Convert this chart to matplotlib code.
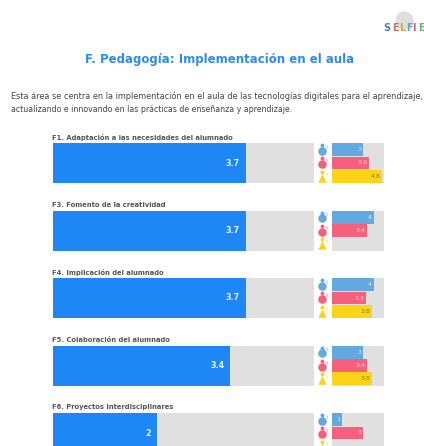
import matplotlib
matplotlib.use("Agg")
import matplotlib.pyplot as plt

W, H = 424, 446

row_names = [
    "F1. Adaptación a las necesidades del alumnado",
    "F3. Fomento de la creatividad",
    "F4. Implicación del alumnado",
    "F5. Colaboración del alumnado",
    "F6. Proyectos interdisciplinares",
]
overall = [3.7, 3.7, 3.7, 3.4, 2]
overall_labels = ["3.7", "3.7", "3.7", "3.4", "2"]

directors = [3, 4, 4, 3, 1]
teachers = [3.6, 3.4, 3.3, 3.4, 3]
students = [4.8, 0, 3.8, 3.8, 0]
director_labels = ["3", "4", "4", "3", "1"]
teacher_labels = ["3.6", "3.4", "3.3", "3.4", "3"]
student_labels = ["4.8", "", "3.8", "3.8", ""]

row_tops = [143, 210.5, 278, 345.5, 413]
row_h = 40

BLUE = "#1e87f5"
GRAY = "#e0e0e0"
SUB_COLORS = ["#62a9e0", "#f7607c", "#fbd417"]
TEXT_COLORS = ["#d8e8f5", "#fbd5dc", "#8a7a30"]

plt.rcParams["font.family"] = "DejaVu Sans"
fig = plt.figure(figsize=(W / 100, H / 100), dpi=100)


def px_axes(x0, y0, w, h):
    ax = fig.add_axes([x0 / W, 1 - (y0 + h) / H, w / W, h / H])
    ax.axis("off")
    return ax


# fondo para textos y logo
bg = fig.add_axes([0, 0, 1, 1])
bg.set_xlim(0, W)
bg.set_ylim(H, 0)
bg.axis("off")

bg.text(219.5, 59, "F. Pedagogía: Implementación en el aula", color="#2a8bf2",
        fontsize=8.45, fontweight="bold", ha="center", va="center")
bg.text(11, 96, "Esta área se centra en la implementación en el aula de las tecnologías digitales para el aprendizaje,",
        color="#444444", fontsize=5.88, va="center")
bg.text(11, 109, "actualizando e innovando en las prácticas de enseñanza y aprendizaje.",
        color="#444444", fontsize=5.7, va="center")

# logo
bg.scatter([404], [20], s=170, color="#dedede", linewidths=0)
for x, ch, c in zip([387, 395, 402, 409, 414, 421], "SELFIE",
                    ["#5a7fa8", "#c9705f", "#d6a33c", "#5aa9c9", "#d0607a", "#6fb06f"]):
    bg.text(x, 28, ch, color=c, fontsize=7, fontweight="bold", ha="center", va="center")

for i, top in enumerate(row_tops):
    bg.text(52.5, top - 5.5, row_names[i], color="#555555", fontsize=4.9,
            fontweight="bold", va="center")

    ax = px_axes(52.5, top, 261, row_h)
    ax.barh([0], [5], height=1, color=GRAY)
    ax.barh([0], [overall[i]], height=1, color=BLUE)
    ax.text(overall[i] - 0.11, 0, overall_labels[i], color="#e8f2ff", fontsize=5.8,
            fontweight="bold", ha="right", va="center")
    ax.set_xlim(0, 5)
    ax.set_ylim(-0.5, 0.5)

    sub = px_axes(332, top, 52, row_h)
    vals = [directors[i], teachers[i], students[i]]
    labs = [director_labels[i], teacher_labels[i], student_labels[i]]
    sub.barh([0, 1, 2], [5, 5, 5], height=1, color=GRAY)
    sub.barh([0, 1, 2], vals, height=0.96, color=SUB_COLORS)
    for j in range(3):
        if labs[j]:
            sub.text(vals[j] - 0.15, j, labs[j], color=TEXT_COLORS[j], fontsize=4.6,
                     ha="right", va="center")
    sub.set_xlim(0, 5)
    sub.set_ylim(2.5, -0.5)

    # iconos
    for j, c in enumerate(SUB_COLORS):
        cy = top + 6.5 + j * 13.4
        bg.scatter([322], [cy + 1.2], s=38, color=c, linewidths=0,
                   marker="^" if j == 2 else "o")
        bg.scatter([322], [cy - 4.5], s=8, color=c, linewidths=0)
        bg.plot([326.5, 328], [cy - 4, cy - 1], color=c, lw=0.7, alpha=0.6)

fig.savefig("out.png", dpi=100)
